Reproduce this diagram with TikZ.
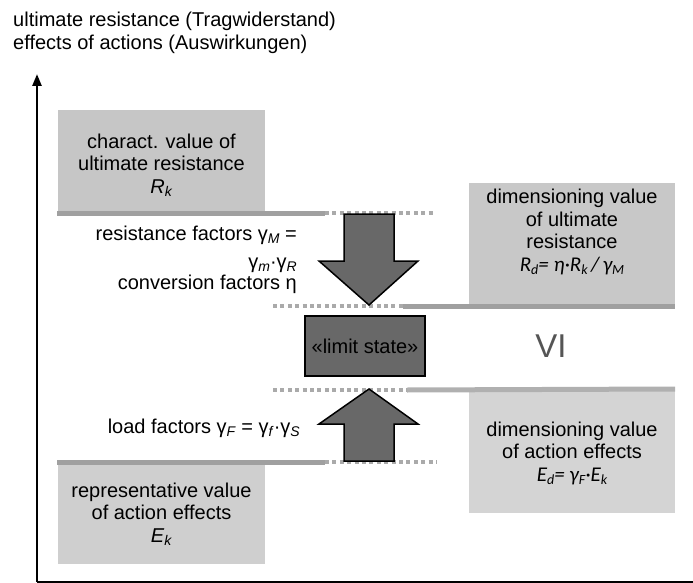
\documentclass[tikz,border=0pt]{standalone}
\usepackage{fontspec}
\setmainfont{Liberation Sans}
\newfontfamily\calfont{Carlito}
\usetikzlibrary{arrows.meta}
\definecolor{boxRk}{HTML}{C6C6C6}
\definecolor{boxRd}{HTML}{C8C8C8}
\definecolor{boxEk}{HTML}{CFCFCF}
\definecolor{boxEd}{HTML}{D4D4D4}
\definecolor{lineA}{HTML}{A0A0A0}
\definecolor{lineB}{HTML}{B0B0B0}
\definecolor{dotC}{HTML}{AAAAAA}
\definecolor{dark}{HTML}{686868}
\definecolor{vicol}{HTML}{555555}
\newcommand{\lsb}[1]{\raisebox{-0.3ex}{\fontsize{14}{14}\selectfont #1}}
\begin{document}
\begin{tikzpicture}[x=1pt,y=-1pt,
  font=\fontsize{20}{22.5}\selectfont,
  box/.style={draw=none, inner sep=0pt},
  txt/.style={inner sep=0pt, align=center},
  solidline/.style={line width=5pt},
  dotline/.style={line width=4.5pt, dotC, dash pattern=on 4pt off 3.4pt},
  blockarrow/.style={fill=dark, draw=black, line width=1.5pt, line join=miter},
  axis/.style={line width=2.5pt, black}
]
\useasboundingbox (0,0) rectangle (693,583);

% title
\node[anchor=north west, inner sep=0pt, align=left] (title) at (13,12)
  {ultimate resistance (Tragwiderstand)\\effects of actions (Auswirkungen)};

% axes
\coordinate (origin) at (37,582);
\coordinate (ytop) at (37,74);
\coordinate (xend) at (693,582);
\draw[axis, -{Triangle[length=12pt,width=9pt]}] (origin) -- (ytop);
\draw[axis] (origin) -- (xend);

% boxes
\node[box, fill=boxRk, minimum width=207pt, minimum height=101pt] (rk) at (161.5,161) {};
\node[box, fill=boxRd, minimum width=206pt, minimum height=122pt] (rd) at (572,244) {};
\node[box, fill=boxEd, minimum width=206pt, minimum height=123pt] (ed) at (572,451) {};
\node[box, fill=boxEk, minimum width=207pt, minimum height=99pt] (ek) at (161.5,514) {};

% box texts
\node[txt] (rkt) at (161.5,165) {charact. value of\\ultimate resistance\\\textit{R}\lsb{\textit{k}}};
\node[txt] (rdt) at (572,232) {dimensioning value\\of ultimate\\resistance\\{\calfont\fontsize{21}{22.5}\selectfont\itshape R\lsb{d}= \textit{η}·R\lsb{k}\,/\,γ\lsb{M}}};
\node[txt] (edt) at (572,453) {dimensioning value\\of action effects\\{\calfont\fontsize{21}{22.5}\selectfont\itshape E\lsb{d}= γ\lsb{F}·E\lsb{k}}};
\node[txt] (ekt) at (161.5,514) {representative value\\of action effects\\\textit{E}\lsb{\textit{k}}};

% level lines
\coordinate (l1a) at (57,213); \coordinate (l1b) at (325,213); \coordinate (l1c) at (433,213);
\coordinate (l2a) at (273,306); \coordinate (l2b) at (403,306); \coordinate (l2c) at (675,306);
\coordinate (l3a) at (273,390); \coordinate (l3b) at (407,390); \coordinate (l3c) at (675,389);
\coordinate (l4a) at (57,462); \coordinate (l4b) at (325,462); \coordinate (l4c) at (437,462);
\draw[solidline, lineA] (l1a) -- (l1b);
\draw[dotline] (l1b) -- (l1c);
\draw[dotline] (l2a) -- (l2b);
\draw[solidline, lineA] (l2b) -- (l2c);
\draw[dotline] (l3a) -- (l3b);
\draw[solidline, lineB] (l3b) -- (l3c);
\draw[solidline, lineA] (l4a) -- (l4b);
\draw[dotline] (l4b) -- (l4c);

% limit state
\node[draw=black, line width=1.5pt, fill=dark, minimum width=120pt, minimum height=60pt, inner sep=0pt] (ls) at (365,346) {«limit state»};

% block arrows
\draw[blockarrow] (344,214) -- (394,214) -- (394,261) -- (418,261) -- (369,305) -- (319,261) -- (344,261) -- cycle;
\draw[blockarrow] (344,461) -- (394,461) -- (394,424) -- (418,424) -- (369,389) -- (319,424) -- (344,424) -- cycle;

% VI
\node[inner sep=0pt, text=vicol, font=\fontsize{33}{33}\selectfont] (vi) at (551,346) {VI};

% factor labels
\node[anchor=base east, inner sep=0pt] (res1) at (297,240) {resistance factors γ\lsb{\textit{M}} =};
\node[anchor=base east, inner sep=0pt] (res2) at (297,268) {γ\lsb{\textit{m}}·γ\lsb{\textit{R}}};
\node[anchor=base east, inner sep=0pt] (res3) at (297,289) {conversion factors η};
\node[anchor=base east, inner sep=0pt] (load) at (300,433) {load factors γ\lsb{\textit{F}} = γ\lsb{\textit{f}}·γ\lsb{\textit{S}}};
\end{tikzpicture}
\end{document}
